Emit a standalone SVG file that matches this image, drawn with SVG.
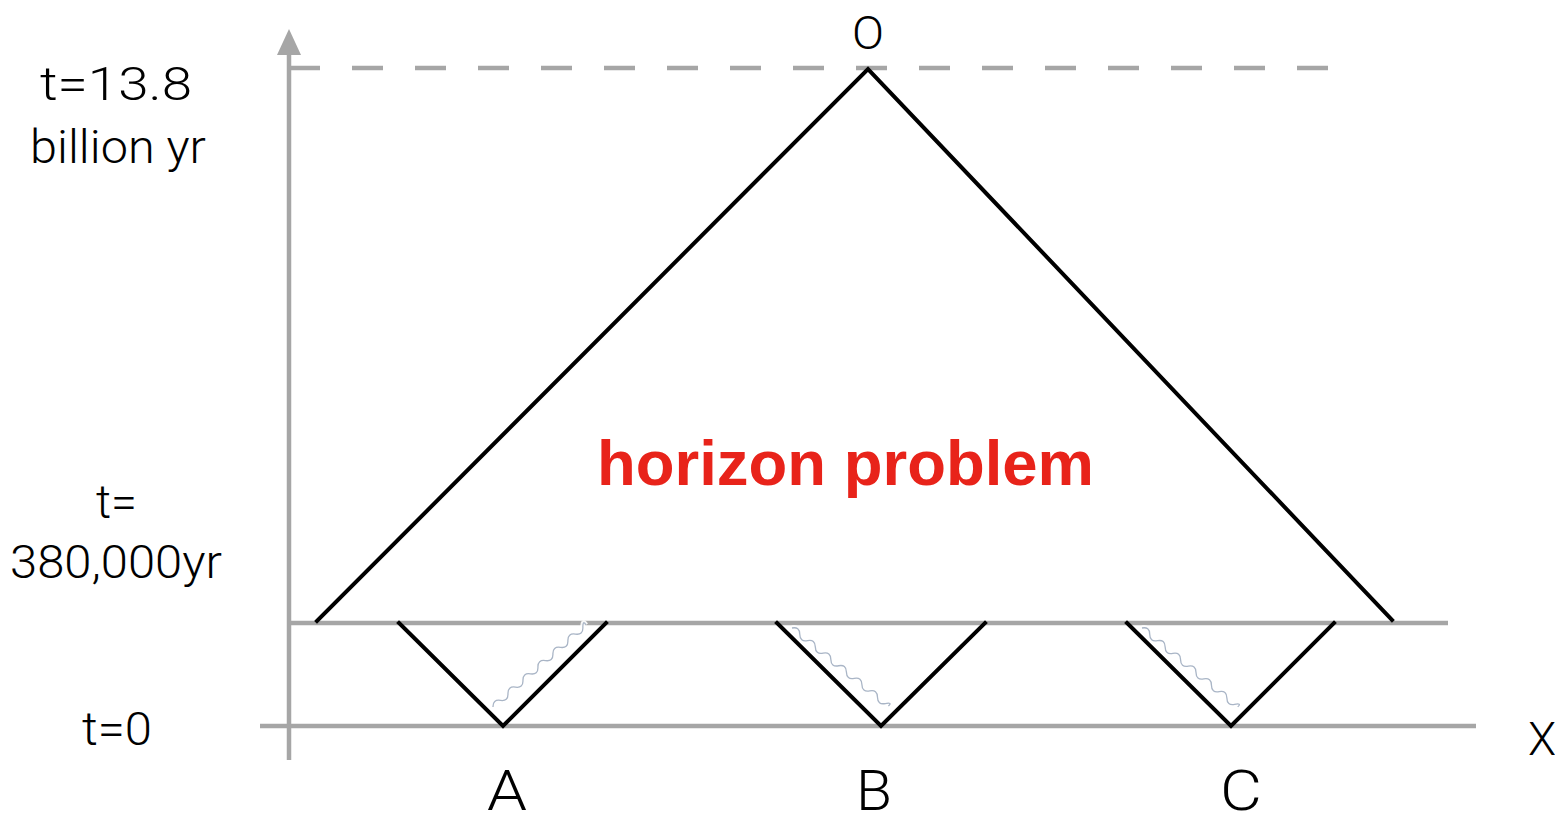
<svg xmlns="http://www.w3.org/2000/svg" width="1555" height="816" viewBox="0 0 1555 816">
<defs>
<style>
.ax{stroke:#a6a6a6;stroke-width:4.5;fill:none}
.ln{stroke:#000;stroke-width:4;fill:none;stroke-linecap:square}
.lbl{font-family:Roboto,"Liberation Sans",sans-serif;font-weight:300;fill:#000}
.wv{stroke:#a9b5c6;stroke-width:1.3;fill:none}
.halo{stroke:#fff;stroke-width:5;fill:none;opacity:0.9}
</style>
<path id="wave" d="M0,0 q5,-6 10,0 t10,0 t10,0 t10,0 t10,0 t10,0 t10,0 t10,0 t10,0 t10,0 t10,0 t10,0 t4,0"/>
</defs>
<rect width="1555" height="816" fill="#fff"/>
<g id="axes">
<line class="ax" x1="289" y1="760" x2="289" y2="52"/>
<polygon points="277,55 301,55 289,29" fill="#a6a6a6"/>
<line class="ax" x1="260" y1="726" x2="1476" y2="726"/>
<line class="ax" x1="289" y1="623" x2="1448" y2="623"/>
<line class="ax" x1="289" y1="68" x2="1335" y2="68" stroke-dasharray="31,32"/>
</g>
<g id="connectors">
<polyline class="ln" points="317,621 868,69 1392,620"/>
<polyline class="ln" points="399,623 503,726 606,623"/>
<polyline class="ln" points="777,623 881,726 985,623"/>
<polyline class="ln" points="1127,623 1231,726 1334,623"/>
</g>
<g id="waves">
<g transform="translate(493,707) rotate(-41.5)"><use href="#wave" class="halo"/><use href="#wave" class="wv"/></g>
<g transform="translate(792,628) rotate(39)"><use href="#wave" class="halo"/><use href="#wave" class="wv"/></g>
<g transform="translate(1142,628) rotate(39.5)"><use href="#wave" class="halo"/><use href="#wave" class="wv"/></g>
</g>
<g id="labels" class="lbl">
<text x="868" y="49" font-size="46" text-anchor="middle" textLength="32" lengthAdjust="spacingAndGlyphs">O</text>
<text x="507" y="810" font-size="56" text-anchor="middle" textLength="40" lengthAdjust="spacingAndGlyphs">A</text>
<text x="874" y="810" font-size="56" text-anchor="middle" textLength="36" lengthAdjust="spacingAndGlyphs">B</text>
<text x="1241" y="810" font-size="56" text-anchor="middle" textLength="42" lengthAdjust="spacingAndGlyphs">C</text>
<text x="1542" y="755" font-size="46" text-anchor="middle">X</text>
<text x="116" y="100" font-size="47" text-anchor="middle" textLength="152" lengthAdjust="spacingAndGlyphs">t=13.8</text>
<text x="118" y="163" font-size="47" text-anchor="middle" textLength="176" lengthAdjust="spacingAndGlyphs">billion yr</text>
<text x="116.5" y="518" font-size="47" text-anchor="middle" textLength="41" lengthAdjust="spacingAndGlyphs">t=</text>
<text x="116" y="578" font-size="47" text-anchor="middle" textLength="212" lengthAdjust="spacingAndGlyphs">380,000yr</text>
<text x="117" y="745" font-size="47" text-anchor="middle" textLength="70" lengthAdjust="spacingAndGlyphs">t=0</text>
</g>
<g id="title">
<text x="845.5" y="485" font-family="'Liberation Sans',Arial,sans-serif" font-weight="bold" font-size="63" fill="#e8231a" text-anchor="middle" textLength="497" lengthAdjust="spacingAndGlyphs">horizon problem</text>
</g>
</svg>
